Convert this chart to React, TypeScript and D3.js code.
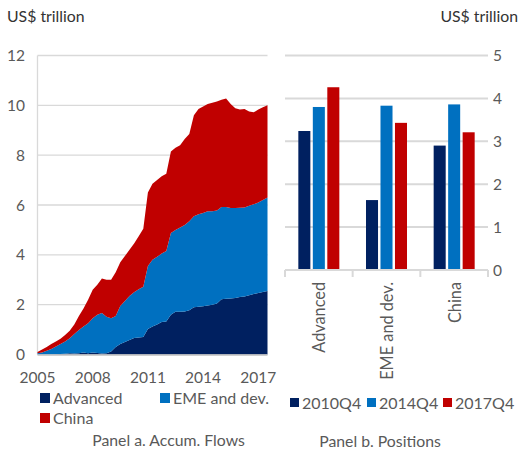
import React from "react";
import * as d3 from "d3";

const quarterIndex: number[] = d3.range(51);
const yearTicks: number[] = [2005, 2008, 2011, 2014, 2017];

const advanced: number[] = [
  0, 0, 0, 0, 0.01, 0.02, 0.03, 0.05, 0.04, 0.05, 0.08, 0.05, 0.08, 0.06, 0.04, 0.05, 0.12,
  0.3, 0.42, 0.5, 0.58, 0.66, 0.68, 0.7, 1.02, 1.12, 1.2, 1.3, 1.32, 1.6, 1.72, 1.72, 1.73,
  1.78, 1.9, 1.92, 1.94, 1.97, 2.0, 2.05, 2.22, 2.24, 2.25, 2.27, 2.31, 2.33, 2.38, 2.43,
  2.47, 2.51, 2.55,
];
const emeDev: number[] = [
  0.05, 0.08, 0.15, 0.22, 0.31, 0.4, 0.49, 0.6, 0.78, 0.93, 1.04, 1.2, 1.37, 1.54, 1.63,
  1.47, 1.33, 1.25, 1.53, 1.65, 1.77, 1.84, 1.94, 2.02, 2.53, 2.68, 2.72, 2.75, 2.83, 3.28,
  3.28, 3.38, 3.47, 3.57, 3.65, 3.71, 3.74, 3.78, 3.75, 3.73, 3.7, 3.68, 3.63, 3.61, 3.58,
  3.57, 3.59, 3.6, 3.63, 3.69, 3.75,
];
const china: number[] = [
  0.05, 0.12, 0.15, 0.2, 0.2, 0.21, 0.26, 0.3, 0.38, 0.57, 0.73, 0.95, 1.15, 1.2, 1.38, 1.48,
  1.55, 1.75, 1.75, 1.8, 1.85, 1.95, 2.13, 2.33, 2.95, 3.05, 3.08, 3.1, 3.1, 3.27, 3.3, 3.3,
  3.45, 3.5, 4.05, 4.22, 4.27, 4.3, 4.35, 4.37, 4.3, 4.35, 4.17, 4.0, 3.94, 3.95, 3.78, 3.69,
  3.73, 3.72, 3.7,
];
const areaKeys: string[] = ["Advanced", "EME and dev.", "China"];
const areaTicksY: number[] = [0, 2, 4, 6, 8, 10, 12];

const barCategories: string[] = ["Advanced", "EME and dev.", "China"];
const barSeries: string[] = ["2010Q4", "2014Q4", "2017Q4"];
const pos2010: number[] = [3.24, 1.63, 2.9];
const pos2014: number[] = [3.8, 3.83, 3.86];
const pos2017: number[] = [4.26, 3.43, 3.21];
const barTicksY: number[] = [0, 1, 2, 3, 4, 5];

const COLORS = ["#002060", "#0070C0", "#C00000"];
const TXT = "#595959";
const GRID = "#D9D9D9";
const FONT = "Lato, 'Open Sans', sans-serif";

export default function App() {
  // Panel a
  const xA = d3.scaleLinear().domain([0, 50]).range([37.5, 267.5]);
  const yA = d3.scaleLinear().domain([0, 12]).range([354.5, 55.5]);
  const rows = quarterIndex.map((i) => ({
    i,
    "Advanced": advanced[i],
    "EME and dev.": emeDev[i],
    "China": china[i],
  }));
  const stacked = d3.stack<any>().keys(areaKeys)(rows);
  const area = d3
    .area<any>()
    .x((d) => xA(d.data.i))
    .y0((d) => yA(d[0]))
    .y1((d) => yA(d[1]));

  // Panel b
  const x0 = d3.scaleBand().domain(barCategories).range([285, 488]);
  const x1 = d3
    .scaleBand()
    .domain(barSeries)
    .range([0, x0.bandwidth()])
    .paddingInner(0.17)
    .paddingOuter(0.92);
  const yB = d3.scaleLinear().domain([0, 5]).range([270, 55.5]);
  const barValues = [pos2010, pos2014, pos2017];

  return (
    <svg
      width={519}
      height={454}
      style={{ position: "absolute", left: 0, top: 0, background: "#fff" }}
      fontFamily={FONT}
    >
      {/* Panel a */}
      <text x={7} y={22} fontSize={15.8} fill="#333">
        US$ trillion
      </text>
      {areaTicksY.map((t) => (
        <g key={"ga" + t}>
          {t > 0 && (
            <line x1={37.5} x2={267.5} y1={yA(t)} y2={yA(t)} stroke={GRID} strokeWidth={1.3} />
          )}
          <text x={25} y={yA(t) + 5.5} textAnchor="end" fontSize={15.5} fill={TXT}>
            {t}
          </text>
        </g>
      ))}
      <line x1={37.5} x2={37.5} y1={55.5} y2={354.5} stroke={GRID} strokeWidth={1.3} />
      {stacked.map((s, k) => (
        <path key={"ar" + k} d={area(s) || ""} fill={COLORS[k]} />
      ))}
      <line x1={37.5} x2={267.5} y1={355} y2={355} stroke="#BFBFBF" strokeWidth={1.3} />
      {yearTicks.map((yr) => (
        <text
          key={"yt" + yr}
          x={xA((yr - 2005) * 4)}
          y={383}
          textAnchor="middle"
          fontSize={15.5}
          fill={TXT}
        >
          {yr}
        </text>
      ))}
      {areaKeys.map((k, j) => {
        const lx = j === 1 ? 160 : 40;
        const ly = j === 2 ? 413 : 393;
        return (
          <g key={"la" + k}>
            <rect x={lx} y={ly} width={10} height={10} fill={COLORS[j]} />
            <text x={lx + 13} y={ly + 11} fontSize={16} fill={TXT}>
              {k}
            </text>
          </g>
        );
      })}
      <text x={168.5} y={446} textAnchor="middle" fontSize={15.8} fill={TXT}>
        Panel a. Accum. Flows
      </text>

      {/* Panel b */}
      <text x={518} y={22} textAnchor="end" fontSize={15.8} fill="#333">
        US$ trillion
      </text>
      {barTicksY.map((t) => (
        <g key={"gb" + t}>
          {t > 0 && (
            <line x1={285} x2={488} y1={yB(t)} y2={yB(t)} stroke={GRID} strokeWidth={2} />
          )}
          <text x={493} y={yB(t) + 5.5} fontSize={15.5} fill={TXT}>
            {t}
          </text>
        </g>
      ))}
      {barCategories.map((c, ci) => (
        <g key={"bc" + c} transform={`translate(${x0(c)},0)`}>
          {barSeries.map((s, si) => (
            <rect
              key={s}
              x={x1(s)}
              width={x1.bandwidth()}
              y={yB(barValues[si][ci])}
              height={yB(0) - yB(barValues[si][ci])}
              fill={COLORS[si]}
            />
          ))}
        </g>
      ))}
      <line x1={285} x2={488} y1={270} y2={270} stroke={GRID} strokeWidth={2} />
      {[...barCategories.map((c) => x0(c) as number), 488].map((x, i) => (
        <line key={"tk" + i} x1={x} x2={x} y1={270} y2={277} stroke={GRID} strokeWidth={2} />
      ))}
      {barCategories.map((c) => {
        const cx = (x0(c) as number) + x0.bandwidth() / 2 + 6.5;
        return (
          <text
            key={"cl" + c}
            transform={`translate(${cx},282) rotate(-90)`}
            textAnchor="end"
            fontSize={16.3}
            fill={TXT}
          >
            {c}
          </text>
        );
      })}
      {barSeries.map((s, j) => {
        const lx = [290, 367, 443][j];
        return (
          <g key={"lb" + s}>
            <rect x={lx} y={398} width={9} height={9} fill={COLORS[j]} />
            <text x={lx + 12} y={408.5} fontSize={16} fill={TXT}>
              {s}
            </text>
          </g>
        );
      })}
      <text x={380} y={446.5} textAnchor="middle" fontSize={15.8} fill={TXT}>
        Panel b. Positions
      </text>
    </svg>
  );
}
